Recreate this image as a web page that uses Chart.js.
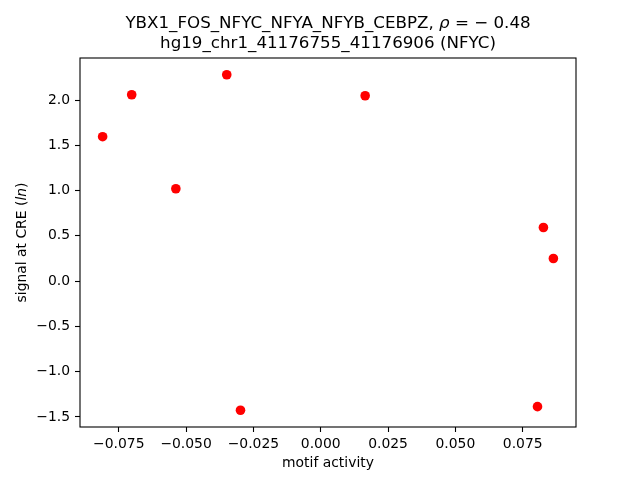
<!DOCTYPE html>
<html>
<head>
<meta charset="utf-8">
<script src="https://cdn.jsdelivr.net/npm/chart.js@4/dist/chart.umd.min.js"></script>
<style>
  html, body { margin: 0; padding: 0; background: #fff; }
  #wrap { width: 640px; height: 480px; }
</style>
</head>
<body>
<div id="wrap"><canvas id="chart" width="640" height="480"></canvas></div>
<script>
// motif activity (x) vs signal at CRE (y)
const motifActivity = [-0.0810, -0.0702, -0.0538, -0.0349, -0.0298, 0.0165, 0.0827, 0.0864, 0.0805];
const signalAtCRE = [1.595, 2.058, 1.020, 2.279, -1.426, 2.047, 0.592, 0.250, -1.386];
const xTicks = [-0.075, -0.050, -0.025, 0.000, 0.025, 0.050, 0.075];
const yTicks = [-1.5, -1.0, -0.5, 0.0, 0.5, 1.0, 1.5, 2.0];

const FONT = '"DejaVu Sans", sans-serif';

function fmt(v, d) {
    return v.toFixed(d).replace('-', '\u2212');
}

// draw text made of normal / italic pieces, centred on x
function drawSegments(ctx, segs, x, y, size) {
    let total = 0;
    segs.forEach(s => {
        ctx.font = (s.italic ? 'italic ' : '') + size + 'px ' + FONT;
        s.w = ctx.measureText(s.t).width;
        total += s.w;
    });
    let cx = x - total / 2;
    segs.forEach(s => {
        ctx.font = (s.italic ? 'italic ' : '') + size + 'px ' + FONT;
        ctx.fillText(s.t, cx, y);
        cx += s.w;
    });
}

const decorations = {
    id: 'decorations',
    afterDraw(chart) {
        const ctx = chart.ctx;
        const a = chart.chartArea;
        ctx.save();
        // frame
        ctx.strokeStyle = '#000';
        ctx.lineWidth = 1.1;
        ctx.strokeRect(a.left, a.top, a.right - a.left, a.bottom - a.top);

        ctx.fillStyle = '#000';
        ctx.textBaseline = 'alphabetic';
        ctx.textAlign = 'left';
        const cx = (a.left + a.right) / 2;
        drawSegments(ctx, [
            { t: 'YBX1_FOS_NFYC_NFYA_NFYB_CEBPZ, ' },
            { t: '\u03c1', italic: true },
            { t: ' = \u2212 0.48' }
        ], cx, 28, 16.7);
        drawSegments(ctx, [{ t: 'hg19_chr1_41176755_41176906 (NFYC)' }], cx, 48, 16.7);

        // x axis title
        drawSegments(ctx, [{ t: 'motif activity' }], cx, 467, 13.9);

        // y axis title
        ctx.translate(26, (a.top + a.bottom) / 2);
        ctx.rotate(-Math.PI / 2);
        drawSegments(ctx, [
            { t: 'signal at CRE (' },
            { t: 'ln', italic: true },
            { t: ')' }
        ], 0, 0, 13.9);
        ctx.restore();
    }
};

new Chart(document.getElementById('chart'), {
    type: 'scatter',
    data: {
        datasets: [{
            data: motifActivity.map((x, i) => ({ x: x, y: signalAtCRE[i] })),
            backgroundColor: '#ff0000',
            borderColor: '#ff0000',
            borderWidth: 0,
            pointRadius: 4.8,
            pointHoverRadius: 4.8
        }]
    },
    options: {
        responsive: false,
        animation: false,
        events: [],
        layout: { padding: { left: 0, right: 64, top: 58, bottom: 0 } },
        plugins: {
            legend: { display: false },
            title: { display: false },
            tooltip: { enabled: false }
        },
        scales: {
            x: {
                type: 'linear',
                min: -0.0894,
                max: 0.0948,
                afterBuildTicks: scale => { scale.ticks = xTicks.map(v => ({ value: v })); },
                afterFit: scale => { scale.height = 53; },
                grid: { display: true, drawOnChartArea: false, drawTicks: true, tickLength: 5, color: '#000', tickWidth: 1.1 },
                border: { display: false },
                ticks: {
                    color: '#000',
                    padding: 4,
                    maxRotation: 0,
                    autoSkip: false,
                    font: { family: FONT, size: 13.9 },
                    callback: v => fmt(v, 3)
                }
            },
            y: {
                type: 'linear',
                min: -1.611,
                max: 2.464,
                afterBuildTicks: scale => { scale.ticks = yTicks.map(v => ({ value: v })); },
                afterFit: scale => { scale.width = 80; },
                grid: { display: true, drawOnChartArea: false, drawTicks: true, tickLength: 5, color: '#000', tickWidth: 1.1 },
                border: { display: false },
                ticks: {
                    color: '#000',
                    padding: 5,
                    autoSkip: false,
                    font: { family: FONT, size: 13.9 },
                    callback: v => fmt(v, 1)
                }
            }
        }
    },
    plugins: [decorations]
});
</script>
</body>
</html>
